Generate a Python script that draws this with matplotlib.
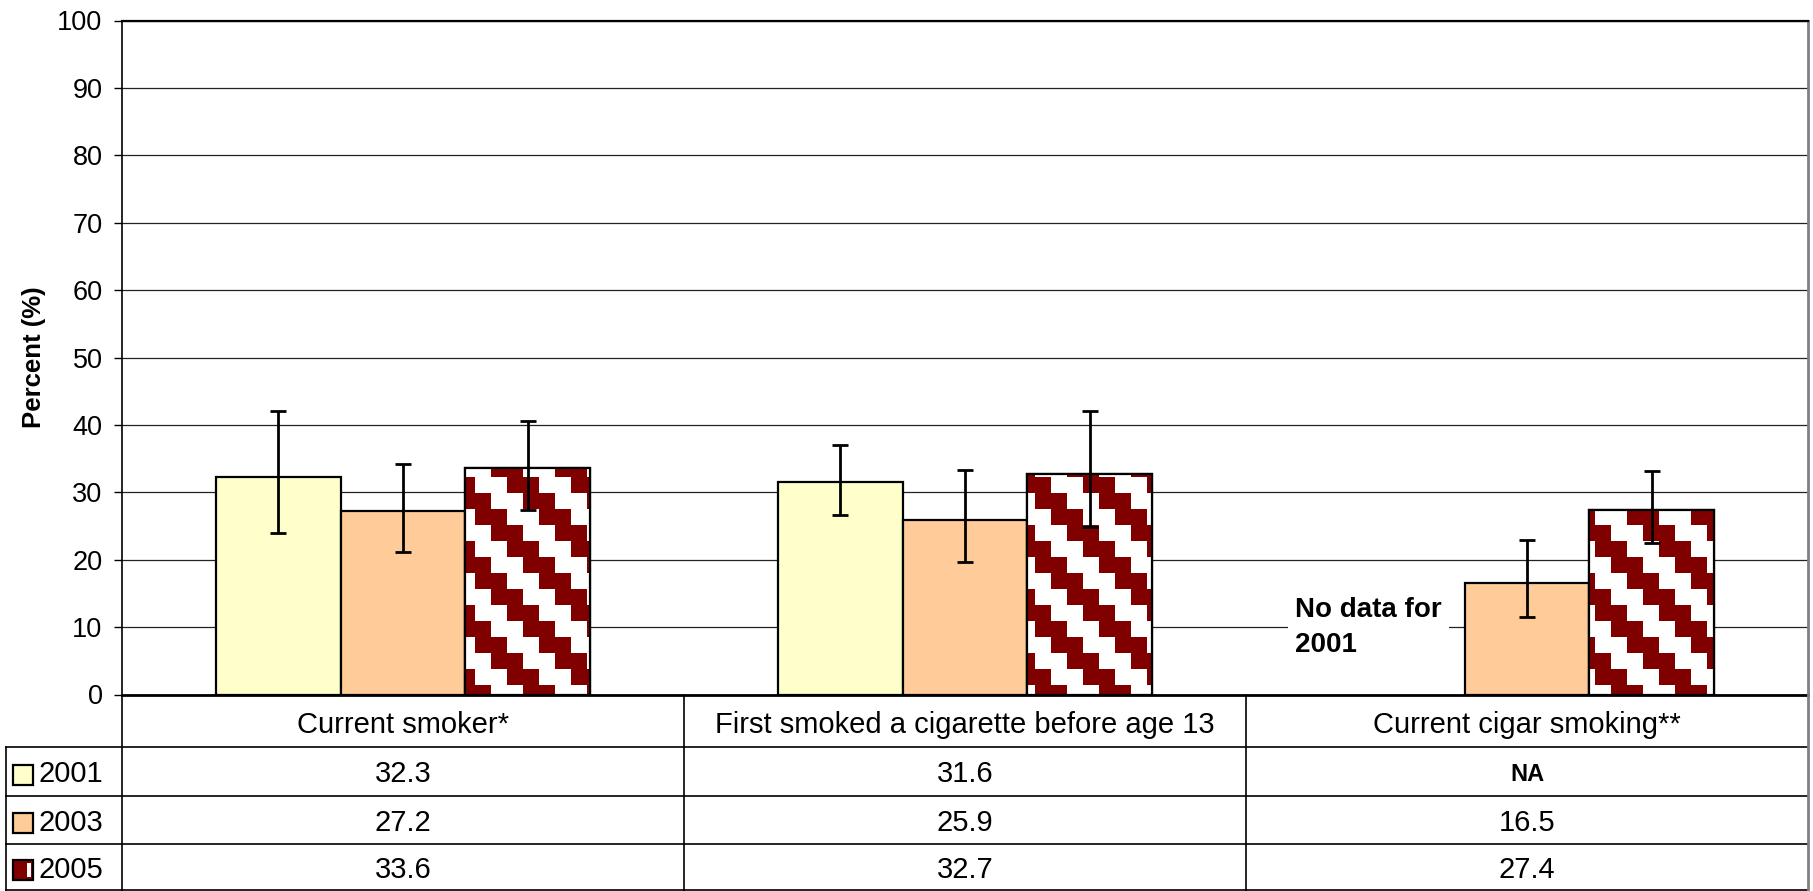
import numpy as np
import matplotlib
matplotlib.use("Agg")
import matplotlib.pyplot as plt
from matplotlib.colors import ListedColormap
from matplotlib.patches import Rectangle
from matplotlib import transforms

plt.rcParams['font.family'] = ['Liberation Sans', 'DejaVu Sans']

# ---------------- data ----------------
categories = ["Current smoker*", "First smoked a cigarette before age 13", "Current cigar smoking**"]
years = ["2001", "2003", "2005"]
v2001 = [32.3, 31.6, np.nan]
v2003 = [27.2, 25.9, 16.5]
v2005 = [33.6, 32.7, 27.4]
lo2001 = [24.0, 26.6, np.nan]
hi2001 = [42.0, 37.0, np.nan]
lo2003 = [21.2, 19.6, 11.5]
hi2003 = [34.2, 33.3, 22.9]
lo2005 = [27.3, 24.8, 22.5]
hi2005 = [40.6, 42.0, 33.2]
table_2001 = ["32.3", "31.6", "NA"]
table_2003 = ["27.2", "25.9", "16.5"]
table_2005 = ["33.6", "32.7", "27.4"]
yticks = list(range(0, 101, 10))

W, H = 1813, 891
DPI = 100
fig = plt.figure(figsize=(W / DPI, H / DPI), dpi=DPI)

ax_l, ax_r, ax_t, ax_b = 122, 1808, 20.5, 694.5
ax = fig.add_axes([ax_l / W, (H - ax_b) / H, (ax_r - ax_l) / W, (ax_b - ax_t) / H])
ax.set_xlim(-0.5, 2.5)
ax.set_ylim(0, 100)

DARK = '#800000'
c2001 = '#FFFFCC'
c2003 = '#FFCC99'

x = np.arange(len(categories))
w = 0.222
series = [
    (v2001, lo2001, hi2001, c2001),
    (v2003, lo2003, hi2003, c2003),
    (v2005, lo2005, hi2005, 'white'),
]

bar_sets = []
for i, (vals, lo, hi, col) in enumerate(series):
    xs = x + (i - 1) * w
    vals = np.array(vals, dtype=float)
    bars = ax.bar(xs, np.nan_to_num(vals), width=w, color=col, edgecolor='black',
                  linewidth=1.6, zorder=3)
    for b, v in zip(bars, vals):
        if np.isnan(v):
            b.set_visible(False)
    bar_sets.append((xs, vals, np.array(lo, float), np.array(hi, float), bars))

ax.set_xlim(-0.5, 2.5)
ax.set_ylim(0, 100)
ax.set_autoscale_on(False)

# pattern fill for 2005 bars (staircase diagonal stripes)
cmap = ListedColormap(['white', DARK])
cell = 16
xs5, vals5, _, _, bars5 = bar_sets[2]
inv = ax.transData.inverted()
for b, v in zip(bars5, vals5):
    if np.isnan(v):
        continue
    bb = b.get_window_extent()
    px0, px1 = int(np.floor(bb.x0)), int(np.ceil(bb.x1))
    py0, py1 = int(np.floor(bb.y0)), int(np.ceil(bb.y1))
    X = np.arange(px0, px1)
    Ydown = H - np.arange(py1, py0, -1)
    XX, YY = np.meshgrid(X, Ydown)
    arr = ((((XX + 5) // cell) - ((YY + 2) // cell) - 2) % 4 < 2).astype(float)
    (dx0, dy0) = inv.transform((px0, py0))
    (dx1, dy1) = inv.transform((px1, py1))
    im = ax.imshow(arr, extent=(dx0, dx1, dy0, dy1), origin='upper', cmap=cmap,
                   vmin=0, vmax=1, interpolation='nearest', aspect='auto', zorder=3.1)
    im.set_clip_path(b)
    ax.add_patch(Rectangle(b.get_xy(), b.get_width(), b.get_height(), fill=False,
                           edgecolor='black', linewidth=1.6, zorder=3.2))
ax.set_xlim(-0.5, 2.5)
ax.set_ylim(0, 100)

# error bars
for xs, vals, lo, hi, bars in bar_sets:
    m = ~np.isnan(vals)
    yerr = np.vstack([vals[m] - lo[m], hi[m] - vals[m]])
    ax.errorbar(xs[m], vals[m], yerr=yerr, fmt='none', ecolor='black', elinewidth=2,
                capsize=5.5, capthick=2, zorder=4)

# grid & axes
ax.set_yticks(yticks)
ax.set_yticklabels([str(t) for t in yticks], fontsize=19.5)
ax.yaxis.grid(True, color='#222222', linewidth=0.9, zorder=1)
ax.set_axisbelow(True)
ax.tick_params(axis='y', direction='out', length=6, width=1, pad=8)
ax.set_xticks([])
for s in ['top', 'right', 'left', 'bottom']:
    ax.spines[s].set_zorder(5)
ax.spines['left'].set_linewidth(1.2)
ax.spines['bottom'].set_linewidth(2)
ax.spines['top'].set_linewidth(1.6)
ax.spines['right'].set_color('#808080')
ax.spines['right'].set_linewidth(2)
ax.set_ylabel("Percent (%)", fontsize=18.5, fontweight='bold', labelpad=8)

# "No data for 2001" note
ax.text(x[2] - w - 0.86 * w, 10, "No data for\n2001", fontsize=20, fontweight='bold',
        ha='left', va='center', linespacing=1.45, zorder=2,
        bbox=dict(boxstyle='square,pad=0.25', facecolor='white', edgecolor='none'))

# ---------------- table ----------------
tax = fig.add_axes([0, 0, 1, 1], facecolor='none')
tax.set_xlim(0, W)
tax.set_ylim(H, 0)
tax.axis('off')
blend = transforms.blended_transform_factory(ax.transData, tax.transData)

row_edges = [ax_b, 747, 796, 844, H - 1]
tbl_left = 5.5
for yy in row_edges[1:]:
    tax.plot([tbl_left, ax_r], [yy, yy], color='black', linewidth=1.2, clip_on=False)
for xb in [-0.5, 0.5, 1.5, 2.5]:
    col = '#808080' if xb == 2.5 else 'black'
    lw = 2 if xb == 2.5 else 1.2
    tax.plot([xb, xb], [ax_b, H], color=col, linewidth=lw, transform=blend, clip_on=False)
tax.plot([tbl_left, tbl_left], [row_edges[1], H], color='black', linewidth=1.2)

cy = (row_edges[0] + row_edges[1]) / 2 + 4
for xi, cat in zip(x, categories):
    tax.text(xi, cy, cat, transform=blend, ha='center', va='center', fontsize=21)

rows = [table_2001, table_2003, table_2005]
for r, (yr, vals) in enumerate(zip(years, rows)):
    ycen = (row_edges[r + 1] + row_edges[r + 2]) / 2 + 3
    for xi, t in zip(x, vals):
        if t == "NA":
            tax.text(xi, ycen, t, transform=blend, ha='center', va='center', fontsize=17,
                     fontweight='bold')
        else:
            tax.text(xi, ycen, t, transform=blend, ha='center', va='center', fontsize=21)
    sq = 20
    sx, sy = 13, ycen - sq / 2
    if r == 2:
        tax.add_patch(Rectangle((sx, sy), sq, sq, facecolor=DARK, edgecolor='none'))
        tax.add_patch(Rectangle((sx + sq * 0.72, sy + 3), sq * 0.16, sq - 6,
                                facecolor='white', edgecolor='none'))
        tax.add_patch(Rectangle((sx, sy), sq, sq, fill=False, edgecolor='black', linewidth=1.6))
    else:
        tax.add_patch(Rectangle((sx, sy), sq, sq, facecolor=[c2001, c2003][r],
                                edgecolor='black', linewidth=1.6))
    tax.text(39, ycen, yr, ha='left', va='center', fontsize=21)

fig.savefig("out.png", dpi=DPI)
